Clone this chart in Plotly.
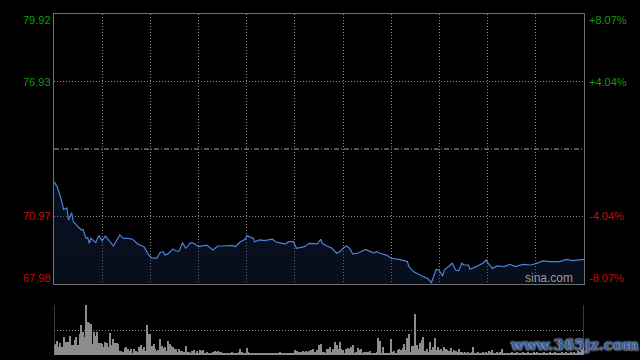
import plotly.graph_objects as go

# ---------------- data ----------------
prev_close = 73.95
price_min = [0, 2, 4, 6, 8, 9, 11, 12, 15, 17, 18, 20, 21, 22, 23, 26, 28, 30, 32, 35,
             37, 41, 43, 46, 49, 52, 56, 59, 61, 64, 66, 68, 69, 71, 74, 76, 78, 80, 82, 85,
             87, 90, 92, 95, 99, 102, 105, 111, 113, 116, 119, 120, 124, 125, 128, 131, 136, 138, 142, 144,
             146, 149, 151, 154, 156, 159, 164, 166, 167, 170, 173, 176, 178, 180, 182, 184, 186, 189, 194, 197,
             199, 201, 203, 207, 210, 215, 220, 221, 224, 227, 230, 233, 235, 237, 238, 240, 242, 243, 248, 250,
             252, 254, 255, 258, 259, 263, 267, 269, 270, 273, 276, 280, 284, 287, 292, 297, 301, 304, 309, 315,
             319, 323, 330]
price = [72.50, 72.28, 71.84, 71.28, 71.34, 70.81, 71.13, 70.74, 70.51, 70.37, 70.40, 70.00, 70.03, 69.78, 70.00, 69.81, 70.12, 69.90, 70.10, 69.85,
         69.66, 70.15, 70.01, 70.00, 69.96, 69.75, 69.63, 69.26, 69.12, 69.12, 69.36, 69.41, 69.26, 69.31, 69.53, 69.44, 69.44, 69.81, 69.56, 69.81,
         69.78, 69.63, 69.66, 69.70, 69.48, 69.66, 69.66, 69.69, 69.63, 69.85, 69.96, 70.12, 70.00, 69.85, 69.93, 69.90, 69.96, 69.85, 69.78, 69.74,
         69.85, 69.85, 69.56, 69.59, 69.63, 69.78, 69.75, 69.96, 69.78, 69.66, 69.56, 69.34, 69.41, 69.56, 69.66, 69.56, 69.31, 69.34, 69.51, 69.41,
         69.36, 69.41, 69.34, 69.26, 69.12, 69.07, 68.97, 68.75, 68.52, 68.41, 68.30, 68.20, 68.04, 68.38, 68.63, 68.57, 68.33, 68.60, 68.90, 68.60,
         68.57, 68.90, 68.82, 68.82, 68.63, 68.75, 68.90, 69.04, 68.92, 68.67, 68.78, 68.75, 68.85, 68.75, 68.85, 68.82, 68.90, 69.00, 68.97, 68.97,
         69.07, 69.01, 69.07]

volume = [30, 33, 42, 25, 37, 25, 53, 39, 39, 39,
          57, 30, 30, 45, 53, 30, 63, 90, 70, 55,
          151, 100, 98, 95, 33, 68, 57, 69, 37, 35,
          33, 25, 40, 37, 25, 65, 30, 47, 37, 37,
          33, 12, 13, 10, 20, 23, 18, 13, 17, 7,
          19, 13, 8, 23, 29, 17, 23, 13, 90, 62,
          62, 27, 33, 17, 13, 15, 49, 27, 20, 25,
          12, 43, 33, 27, 25, 17, 19, 9, 17, 11,
          13, 10, 27, 8, 8, 5, 12, 15, 7, 13,
          5, 15, 12, 15, 5, 9, 6, 7, 5, 10,
          12, 10, 13, 10, 9, 7, 5, 5, 6, 5,
          7, 10, 5, 7, 7, 10, 17, 9, 5, 6,
          20, 9, 5, 6, 5, 5, 6, 7, 5, 5,
          5, 6, 5, 5, 6, 5, 6, 7, 5, 6,
          6, 8, 5, 7, 6, 7, 5, 7, 5, 6,
          15, 12, 8, 9, 8, 12, 10, 12, 9, 12,
          15, 19, 10, 10, 15, 30, 33, 10, 10, 5,
          17, 17, 25, 10, 17, 40, 30, 17, 38, 17,
          15, 5, 17, 20, 18, 23, 29, 5, 8, 20,
          14, 17, 7, 9, 10, 8, 10, 12, 5, 7,
          5, 8, 50, 43, 7, 23, 7, 5, 5, 5,
          48, 10, 12, 7, 15, 17, 15, 20, 33, 15,
          50, 63, 9, 28, 28, 123, 30, 17, 35, 45,
          55, 13, 17, 10, 39, 15, 25, 52, 15, 25,
          15, 17, 12, 25, 17, 15, 13, 20, 10, 15,
          13, 10, 17, 10, 8, 7, 8, 7, 8, 7,
          10, 23, 7, 5, 8, 7, 5, 9, 7, 10,
          7, 12, 9, 15, 7, 5, 8, 5, 10, 17,
          7, 5, 7, 6, 5, 8, 7, 5, 9, 6,
          5, 7, 10, 6, 5, 8, 6, 7, 5, 9,
          6, 8, 5, 7, 6, 10, 5, 7, 6, 8,
          5, 6, 9, 7, 5, 6, 8, 7, 5, 10,
          6, 7, 8, 6, 9, 7, 12, 10, 8, 15, 20]
vol_minutes = list(range(len(volume)))

left_ticks = [79.92, 76.93, 70.97, 67.98]
right_ticks = ["+8.07%", "+4.04%", "-4.04%", "-8.07%"]
x_grid = [30, 60, 90, 120, 150, 180, 210, 240, 270, 300]

# ---------------- figure ----------------
BORDER = "#707070"
GRID = "#8c8c8c"
DOT = "1px,2px"
FONT = "Liberation Sans, Arial, sans-serif"
GREEN = "#0e9e0e"
RED = "#c80c0c"

fig = go.Figure()

fig.add_trace(go.Scatter(
    x=price_min, y=price, mode="lines",
    line=dict(color="#4a82dc", width=1.2),
    fill="tozeroy",
    fillgradient=dict(type="vertical",
                      colorscale=[[0, "rgba(0,0,0,0)"], [1, "rgba(25,45,90,0.35)"]]),
    xaxis="x", yaxis="y", hoverinfo="skip", showlegend=False))

fig.add_trace(go.Bar(
    x=vol_minutes, y=volume, width=0.62,
    marker=dict(color="#8c8c8c", line=dict(width=0)),
    xaxis="x2", yaxis="y2", hoverinfo="skip", showlegend=False))

xdom = [54 / 640, 584 / 640]
fig.update_layout(
    width=640, height=360,
    margin=dict(l=0, r=0, t=0, b=0),
    paper_bgcolor="#000000", plot_bgcolor="#000000",
    font=dict(family=FONT, size=11),
    bargap=0,
    xaxis=dict(domain=xdom, range=[0, 330], anchor="y",
               showline=True, linecolor=BORDER, linewidth=1, mirror=True,
               tickvals=x_grid, showticklabels=False, ticks="",
               showgrid=True, gridcolor=GRID, griddash=DOT, gridwidth=1,
               zeroline=False, fixedrange=True),
    yaxis=dict(domain=[(360 - 284) / 360, (360 - 14) / 360],
               range=[left_ticks[-1], left_ticks[0]], anchor="x",
               showline=True, linecolor=BORDER, linewidth=1, mirror=True,
               tickvals=[left_ticks[1], left_ticks[2]], showticklabels=False, ticks="",
               showgrid=True, gridcolor=GRID, griddash=DOT, gridwidth=1,
               zeroline=False, fixedrange=True),
    xaxis2=dict(domain=xdom, range=[0, 330], anchor="y2",
                showline=False, showticklabels=False, ticks="",
                showgrid=False, zeroline=False, fixedrange=True),
    yaxis2=dict(domain=[5 / 360, 55 / 360], range=[0, 151], anchor="x2",
                showline=False, showticklabels=False, ticks="",
                tickvals=[0, 75.5, 151],
                showgrid=True, gridcolor=GRID, griddash=DOT, gridwidth=1,
                zeroline=False, fixedrange=True),
)

# prev close dash-dot line
fig.add_shape(type="line", xref="x", yref="y", x0=0, x1=330, y0=prev_close, y1=prev_close,
              line=dict(color="#a8a8a8", width=1, dash="5px,2px,1px,2px"), layer="below")
# volume panel vertical borders
for xv in (0, 330):
    fig.add_shape(type="line", xref="x2", yref="y2", x0=xv, x1=xv, y0=0, y1=151,
                  line=dict(color=BORDER, width=1))

# axis labels
shifts = [-6, 0, 0, 6]
for i, (lv, rv) in enumerate(zip(left_ticks, right_ticks)):
    col = GREEN if lv > prev_close else RED
    fig.add_annotation(x=xdom[0], xref="paper", y=lv, yref="y", yshift=shifts[i],
                       text=f"{lv:.2f}", showarrow=False, xanchor="right", xshift=-1,
                       font=dict(color=col, size=11, family=FONT))
    fig.add_annotation(x=xdom[1], xref="paper", y=lv, yref="y", yshift=shifts[i],
                       text=rv, showarrow=False, xanchor="left", xshift=3,
                       font=dict(color=col, size=11, family=FONT))

fig.add_annotation(x=xdom[1], xref="paper", y=left_ticks[-1], yref="y", yshift=6, xshift=-9,
                   text="sina.com", showarrow=False, xanchor="right",
                   font=dict(color="#9a9a9a", size=12, family=FONT))

fig.add_annotation(x=574 / 640, xref="paper", y=(360 - 345) / 360, yref="paper",
                   text="<b>www.365jz.com</b>",
                   showarrow=False, xanchor="center", yanchor="middle",
                   font=dict(color="#2c5ea6", size=15, family="DejaVu Serif",
                             shadow="0px 0px 2px #c8c8c8, 0px 0px 2px #c8c8c8"))

fig.write_html("out.html", config={"displayModeBar": False},
               post_script="document.body.style.margin='0';document.body.style.padding='0';")
